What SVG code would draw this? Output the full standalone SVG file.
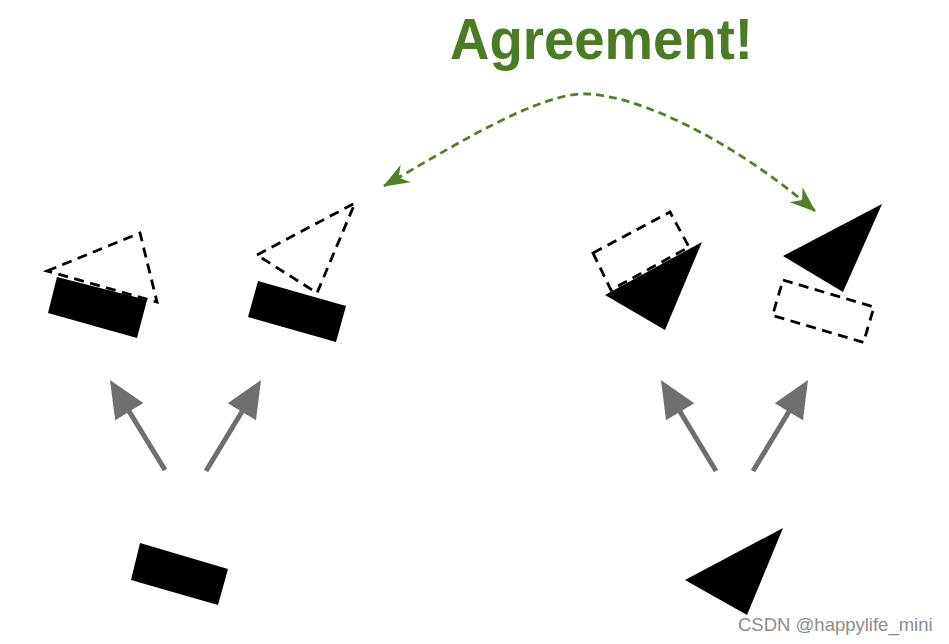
<svg xmlns="http://www.w3.org/2000/svg" width="949" height="644" viewBox="0 0 949 644">
  <style>
    .solid { fill: #000000; stroke: none; }
    .dash { fill: none; stroke: #000000; stroke-width: 2.8; stroke-dasharray: 10 6.5; stroke-linejoin: miter; }
    .gray-arrow { fill: none; stroke: #6f6f6f; stroke-width: 5; }
    .agree-link { fill: none; stroke: #4f8228; stroke-width: 2.8; stroke-dasharray: 8 5; }
    .title { font-family: "Liberation Sans", Arial, sans-serif; font-weight: bold; fill: #4a7c23; }
    .mark { font-family: "Liberation Sans", Arial, sans-serif; fill: #8c8c8c; }
  </style>
  <defs>
    <marker id="grayHead" markerUnits="userSpaceOnUse" viewBox="-10 -20 44 40" markerWidth="44" markerHeight="40" refX="0" refY="0" orient="auto">
      <path d="M30,0 L-7,-16.5 L-7,16.5 Z" fill="#6f6f6f"/>
    </marker>
    <marker id="greenHead" markerUnits="userSpaceOnUse" viewBox="-30 -13 34 26" markerWidth="34" markerHeight="26" refX="0" refY="0" orient="auto-start-reverse">
      <path d="M1,0 L-25,-10 L-17,0 L-25,10 Z" fill="#4f8228"/>
    </marker>
  </defs>
  <rect width="949" height="644" fill="#ffffff"/>

  <g id="title">
    <text class="title" x="450" y="59" font-size="57" textLength="303" lengthAdjust="spacingAndGlyphs">Agreement!</text>
  </g>

  <g id="node-rect-bottom">
    <polygon class="solid" points="140,543 228,569 218,605 131,580"/>
  </g>
  <g id="node-tri-bottom">
    <polygon class="solid" points="685,580 783,528 747,615"/>
  </g>

  <g id="node-left-1">
    <polygon class="solid" points="57,277 147,300 137,338 48,313"/>
    <polygon class="dash" points="47,271 140,233 157,302"/>
  </g>
  <g id="node-left-2">
    <polygon class="solid" points="258,281 346,306 336,342 248,317"/>
    <polygon class="dash" points="257,255 355,203 317,293"/>
  </g>
  <g id="node-right-1">
    <polygon class="dash" points="593,253 670,212 689,247 611,290"/>
    <polygon class="solid" points="605,295 702,242 665,330"/>
  </g>
  <g id="node-right-2">
    <polygon class="solid" points="783,256 882,204 843,292"/>
    <polygon class="dash" points="783,280 874,307 863.5,342.4 772.5,315.4"/>
  </g>

  <g id="connectors">
    <line class="gray-arrow" x1="165" y1="470" x2="125.6" y2="405.6" marker-end="url(#grayHead)"/>
    <line class="gray-arrow" x1="206" y1="471" x2="245.5" y2="405.7" marker-end="url(#grayHead)"/>
    <line class="gray-arrow" x1="716" y1="471" x2="676.5" y2="405.7" marker-end="url(#grayHead)"/>
    <line class="gray-arrow" x1="753" y1="471" x2="792.5" y2="405.7" marker-end="url(#grayHead)"/>
    <path class="agree-link" d="M384,186 C455,145 540,92 587,94 C640,96 732,140 815,211" marker-start="url(#greenHead)" marker-end="url(#greenHead)"/>
  </g>

  <g id="watermark">
    <text class="mark" x="738" y="631" font-size="18.5">CSDN @happylife_mini</text>
  </g>
</svg>
